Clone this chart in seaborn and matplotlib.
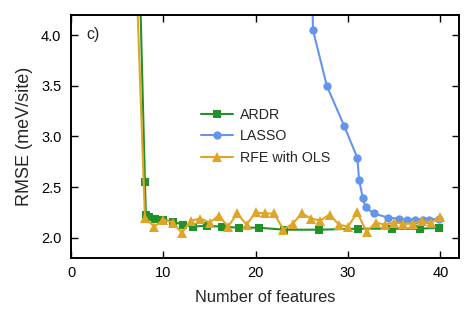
import matplotlib
matplotlib.use("Agg")
import matplotlib.pyplot as plt
import seaborn as sns
import pandas as pd

# ARDR (non-integer feature counts, averaged)
ardr_x = [7.0, 8.0, 8.1, 8.4, 9.1, 10.0, 11.0, 12.1, 13.2, 14.7, 16.3, 18.2,
          20.3, 23.1, 26.9, 31.1, 34.8, 37.8, 39.9]
ardr_y = [6.1, 2.55, 2.23, 2.21, 2.19, 2.18, 2.16, 2.13, 2.11, 2.12, 2.11, 2.10,
          2.10, 2.08, 2.08, 2.09, 2.09, 2.09, 2.10]

# LASSO
lasso_x = [25.9, 26.2, 27.7, 29.6, 31.0, 31.2, 31.6, 31.9, 32.8, 34.3, 35.5,
           36.4, 37.2, 38.1, 38.8, 39.9]
lasso_y = [5.5, 4.05, 3.50, 3.10, 2.79, 2.57, 2.39, 2.30, 2.24, 2.20, 2.19,
           2.18, 2.18, 2.18, 2.18, 2.19]

# RFE with OLS
rfe_x = list(range(7, 41))
rfe_y = [4.75, 2.20, 2.11, 2.18, 2.15, 2.05, 2.17, 2.19, 2.15, 2.22, 2.11, 2.24,
         2.13, 2.25, 2.24, 2.24, 2.08, 2.14, 2.24, 2.19, 2.17, 2.23, 2.13, 2.11,
         2.25, 2.06, 2.15, 2.13, 2.15, 2.14, 2.14, 2.17, 2.15, 2.21]

series = [
    ("ARDR", ardr_x, ardr_y, "s", "#22912a", 6),
    ("LASSO", lasso_x, lasso_y, "o", "#6495ed", 6),
    ("RFE with OLS", rfe_x, rfe_y, "^", "#e0a526", 7),
]

sns.set_style("ticks")
plt.rcParams['font.family'] = ['Liberation Sans', 'DejaVu Sans']
plt.rcParams['font.size'] = 11

fig = plt.figure(figsize=(4.74, 3.23), dpi=100)
ax = fig.add_axes([0.150, 0.201, 0.818, 0.753])

for name, xs, ys, mk, col, ms in series:
    df = pd.DataFrame({"n": xs, "rmse": ys})
    sns.lineplot(data=df, x="n", y="rmse", ax=ax, marker=mk, color=col,
                 markersize=ms, markeredgewidth=0, linewidth=1.5, label=name)

ax.set_xlim(0, 42)
ax.set_ylim(1.8, 4.2)
ax.set_xticks([0, 10, 20, 30, 40])
ax.set_yticks([2.0, 2.5, 3.0, 3.5, 4.0])
ax.set_xlabel("Number of features", fontsize=11.8, labelpad=7.5)
ax.set_ylabel("RMSE (meV/site)", fontsize=13, labelpad=6)
ax.tick_params(direction="in", length=5, width=1, top=True, right=True,
               labelsize=10.5, colors="black")
ax.tick_params(axis="x", pad=5.5)
ax.tick_params(axis="y", pad=7)
for s in ax.spines.values():
    s.set_linewidth(1.4)
    s.set_color("black")

ax.text(0.04, 0.92, "c)", transform=ax.transAxes, fontsize=11.5,
        va="center", ha="left")

ax.legend(loc="upper left", bbox_to_anchor=(0.31, 0.66), frameon=False,
          fontsize=10.3, handlelength=2.2, handletextpad=0.5,
          labelspacing=0.55, borderpad=0.2)

fig.savefig("out.png", dpi=100)
